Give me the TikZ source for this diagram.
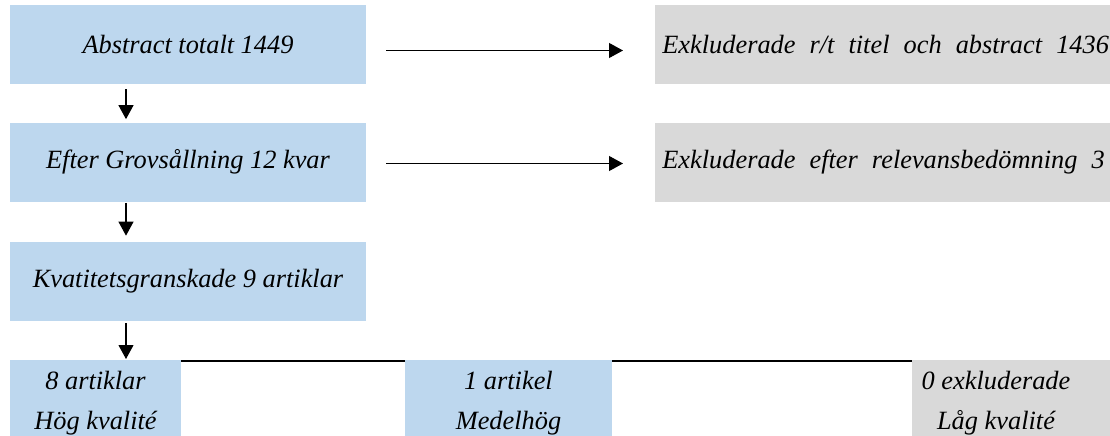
\documentclass[tikz,border=0pt]{standalone}
\usepackage{fontspec}
\setmainfont{Liberation Serif}
\usepackage{tikz}
\usetikzlibrary{positioning, arrows.meta}
\definecolor{blueBoxCol}{RGB}{189, 215, 238}
\definecolor{greyBoxCol}{RGB}{217, 217, 217}
\newcommand{\wideSpaces}{\spaceskip=8pt plus 1pt\relax}
\tikzset{myBoxText/.style={font=\itshape\fontsize{15}{22.8}\selectfont, inner sep=0pt}}
\tikzset{myBlueBox/.style={myBoxText, fill=blueBoxCol, minimum height=1.58cm, align=center}}
\tikzset{myGreyBox/.style={myBoxText, execute at begin node=\wideSpaces, fill=greyBoxCol, minimum height=1.58cm, text width=9.2cm, align=left, inner xsep=0.14cm}}
\tikzset{myArrow/.style={line width=0.6pt, color=black, -{Triangle[width=0.3cm,length=0.28cm]}}}
\tikzset{myLink/.style={line width=1.2pt, color=black}}

\begin{document}
\begin{tikzpicture}
		\useasboundingbox (0,0) rectangle (22.2,-8.72);
		\clip (0,0) rectangle (22.2,-8.72);
		% left column
		\node[myBlueBox, minimum width=7.12cm] (abs) at (3.76,-0.89) {Abstract totalt 1449};
		\node[myBlueBox, minimum width=7.12cm] (grov) at (3.76,-3.24) {Efter Grovsållning 12 kvar};
		\node[myBlueBox, minimum width=7.12cm] (kval) at (3.76,-5.63) {Kvatitetsgranskade 9 artiklar};
		% excluded
		\node[myGreyBox, anchor=west] (exkl1) at (13.1,-0.89) {Exkluderade r/t titel och abstract 1436};
		\node[myGreyBox, anchor=west] (exkl2) at (13.1,-3.24) {Exkluderade efter relevansbedömning 3};
		% bottom row
		\node[myBlueBox, minimum width=3.42cm, minimum height=1.72cm, anchor=north] (hog) at (1.91,-7.2) {8 artiklar\\Hög kvalité};
		\node[myBlueBox, minimum width=4.14cm, minimum height=1.72cm, anchor=north] (medel) at (10.17,-7.2) {1 artikel\\Medelhög};
		\node[myBlueBox, fill=greyBoxCol, minimum width=4.2cm, minimum height=1.72cm, anchor=north west] (lag) at (18.24,-7.2) {};
		\node[myBoxText, align=center] (lagText) at ([xshift=1.68cm]lag.west) {0 exkluderade\\Låg kvalité};

		\draw[myArrow, shorten <=0.1cm, shorten >=0.06cm] ([xshift=-1.24cm]abs.south) -- ([xshift=-1.24cm]grov.north);
		\draw[myArrow, shorten <=0.02cm, shorten >=0.12cm] ([xshift=-1.24cm]grov.south) -- ([xshift=-1.24cm]kval.north);
		\draw[myArrow, shorten <=0.04cm, shorten >=0.02cm] ([xshift=-1.24cm]kval.south) -- ([xshift=-1.24cm]kval.south |- hog.north);
		\draw[myArrow, shorten <=0.4cm, shorten >=0.64cm] ([yshift=-0.12cm]abs.east) -- ([yshift=-0.12cm]exkl1.west);
		\draw[myArrow, shorten <=0.4cm, shorten >=0.64cm] ([yshift=-0.03cm]grov.east) -- ([yshift=-0.03cm]exkl2.west);
		\draw[myLink] ([yshift=-0.02cm]hog.north east) -- ([yshift=-0.02cm]medel.north west);
		\draw[myLink] ([yshift=-0.02cm]medel.north east) -- ([yshift=-0.02cm]lag.north west);
	\end{tikzpicture}
\end{document}
